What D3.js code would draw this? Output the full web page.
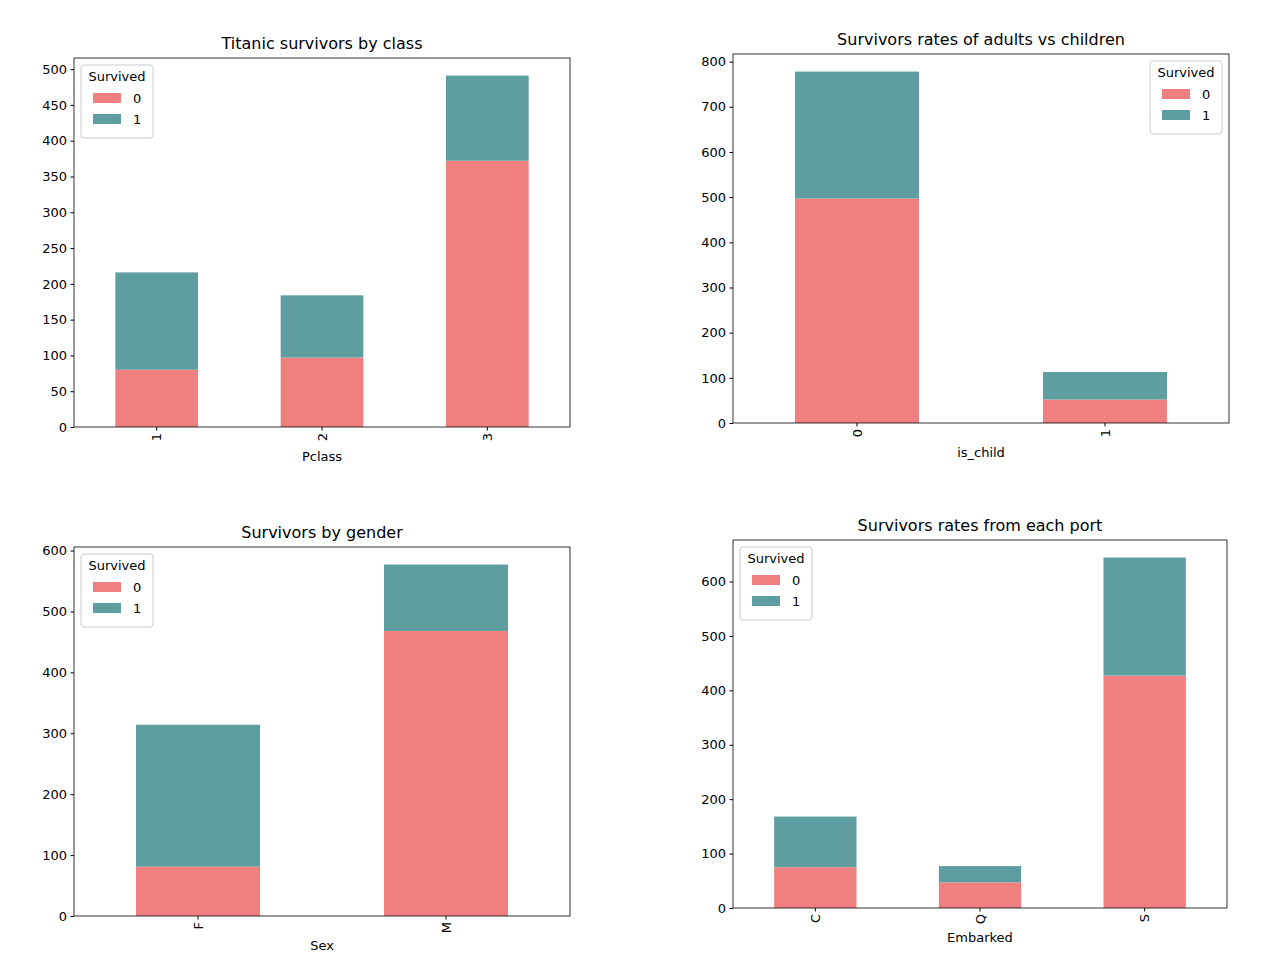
<!DOCTYPE html>
<html><head><meta charset="utf-8">
<script src="https://cdn.jsdelivr.net/npm/d3@7"></script>
<style>body{margin:0;background:#fff}text{font-family:"DejaVu Sans",sans-serif}</style>
</head><body>
<svg id="c" width="1280" height="960"></svg>
<script>
const colors = ["#F08080", "#5F9EA0"];
const seriesNames = ["0", "1"];

const pclassCats = ["1", "2", "3"];
const pclassDied = [80, 97, 372];
const pclassSurv = [136, 87, 119];

const childCats = ["0", "1"];
const childDied = [497, 52];
const childSurv = [281, 61];

const sexCats = ["F", "M"];
const sexDied = [81, 468];
const sexSurv = [233, 109];

const portCats = ["C", "Q", "S"];
const portDied = [75, 47, 427];
const portSurv = [93, 30, 217];

const panels = [
  {title:"Titanic survivors by class", xlabel:"Pclass", cats:pclassCats, d:pclassDied, s:pclassSurv, box:[74,58,570,427], legend:"left"},
  {title:"Survivors rates of adults vs children", xlabel:"is_child", cats:childCats, d:childDied, s:childSurv, box:[733,54,1229,423], legend:"right"},
  {title:"Survivors by gender", xlabel:"Sex", cats:sexCats, d:sexDied, s:sexSurv, box:[74,547,570,916], legend:"left"},
  {title:"Survivors rates from each port", xlabel:"Embarked", cats:portCats, d:portDied, s:portSurv, box:[733,540,1227,908], legend:"left"}
];

const svg = d3.select("#c");
panels.forEach(p => {
  const [x0,y0,x1,y1] = p.box;
  const g = svg.append("g");
  const totals = p.cats.map((c,i)=>p.d[i]+p.s[i]);
  const y = d3.scaleLinear().domain([0, d3.max(totals)*1.05]).range([y1,y0]);
  const x = d3.scaleBand().domain(p.cats).range([x0,x1]).paddingInner(0.5).paddingOuter(0.25);
  p.cats.forEach((c,i)=>{
    g.append("rect").attr("x",x(c)).attr("width",x.bandwidth()).attr("y",y(p.d[i])).attr("height",y(0)-y(p.d[i])).attr("fill",colors[0]);
    g.append("rect").attr("x",x(c)).attr("width",x.bandwidth()).attr("y",y(totals[i])).attr("height",y(p.d[i])-y(totals[i])).attr("fill",colors[1]);
  });
  const ya = g.append("g").attr("transform",`translate(${x0},0)`).call(d3.axisLeft(y).ticks(8).tickSizeOuter(0).tickSize(3.5).tickPadding(3.5));
  ya.selectAll("text").style("font-size","13px").attr("fill","#000");
  ya.select(".domain").remove();
  const xa = g.append("g").attr("transform",`translate(0,${y1})`).call(d3.axisBottom(x).tickSize(3.5).tickSizeOuter(0));
  xa.select(".domain").remove();
  xa.selectAll("text").style("font-size","13px").attr("fill","#000").attr("transform","rotate(-90)").attr("text-anchor","end").attr("dy","0.35em").attr("x",-6).attr("y",0);
  g.append("rect").attr("x",x0).attr("y",y0).attr("width",x1-x0).attr("height",y1-y0).attr("fill","none").attr("stroke","#000").attr("stroke-width",0.8);
  g.append("text").attr("x",(x0+x1)/2).attr("y",y0-9).attr("text-anchor","middle").style("font-size","16px").text(p.title);
  g.append("text").attr("x",(x0+x1)/2).attr("y",y1+34).attr("text-anchor","middle").style("font-size","13px").text(p.xlabel);
  const lw=72, lh=73;
  const lx = p.legend==="left" ? x0+7 : x1-7-lw, ly=y0+7;
  const lg = g.append("g").attr("transform",`translate(${lx},${ly})`);
  lg.append("rect").attr("width",lw).attr("height",lh).attr("rx",3).attr("fill","#fff").attr("fill-opacity",0.8).attr("stroke","#ccc");
  lg.append("text").attr("x",lw/2).attr("y",16).attr("text-anchor","middle").style("font-size","13px").text("Survived");
  seriesNames.forEach((n,i)=>{
    lg.append("rect").attr("x",12).attr("y",28+i*21).attr("width",28).attr("height",10).attr("fill",colors[i]);
    lg.append("text").attr("x",52).attr("y",38+i*21).style("font-size","13px").text(n);
  });
});
</script>
</body></html>
